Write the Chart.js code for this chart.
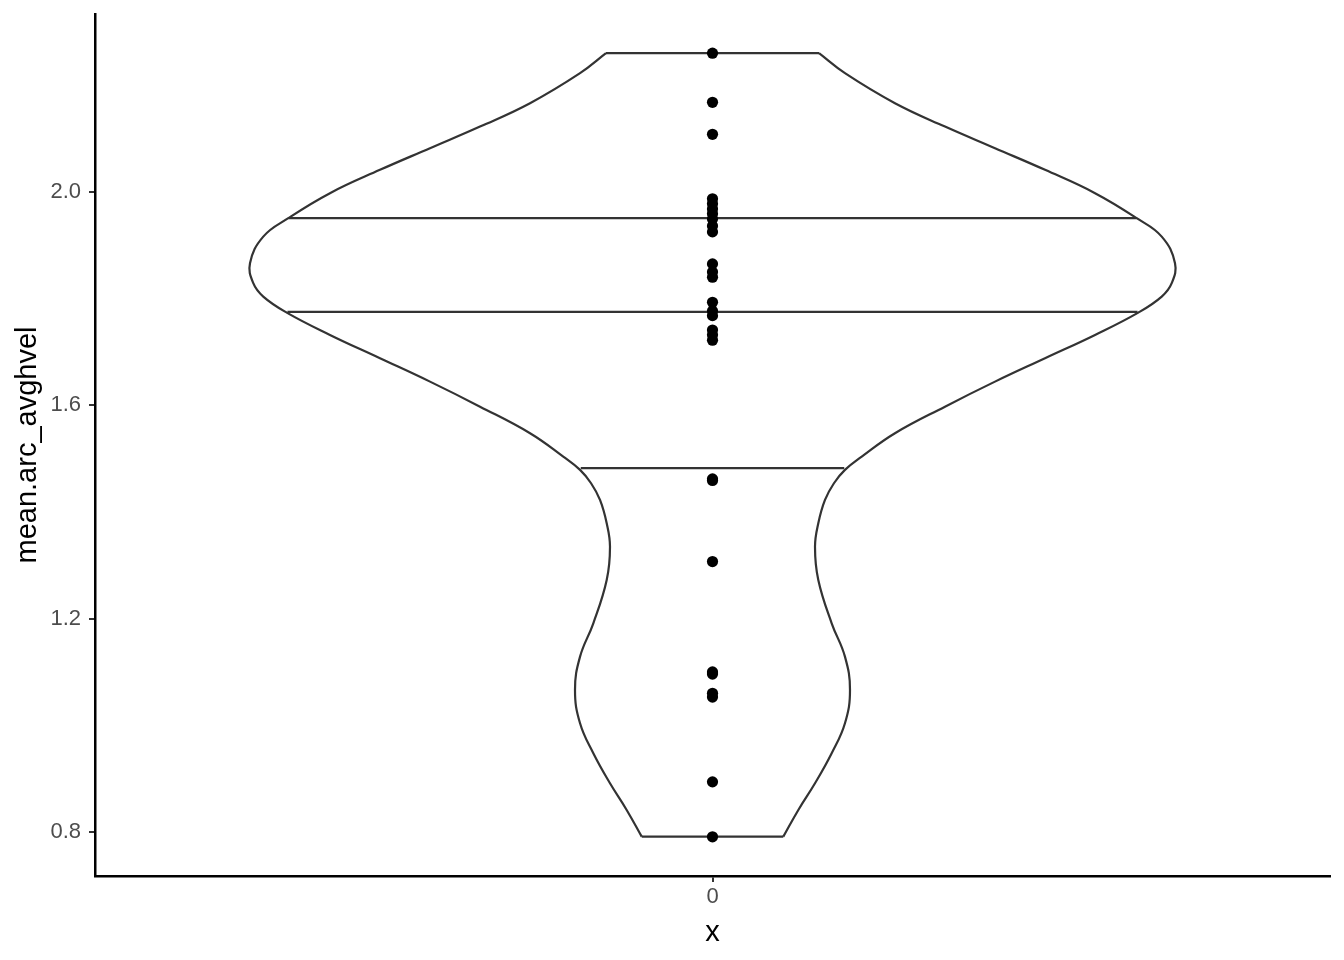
<!DOCTYPE html>
<html><head><meta charset="utf-8">
<script src="https://cdn.jsdelivr.net/npm/chart.js@4/dist/chart.umd.min.js"></script>
<style>html,body{margin:0;padding:0;background:#fff}#wrap{width:1344px;height:960px}</style>
</head><body><div id="wrap"><canvas id="c" width="1344" height="960"></canvas></div>
<script>
// ---- data ----
const categoryLabel = "0";
const xTitle = "x";
const yTitle = "mean.arc_avghvel";
const pointValues = [2.260, 2.168, 2.108,
  1.987, 1.978, 1.968, 1.959, 1.949, 1.936, 1.925,
  1.865, 1.850, 1.840,
  1.793, 1.777, 1.768, 1.741, 1.732, 1.722,
  1.462, 1.459, 1.307, 1.100, 1.096, 1.060, 1.053, 0.894, 0.791];
const violinY = [2.2601, 2.2226, 2.1663, 2.1224, 2.0819, 2.0413, 1.9976, 1.9507, 1.9162, 1.8663,
  1.8288, 1.8037, 1.7737, 1.7319, 1.6882, 1.6443, 1.5974, 1.5476, 1.5037, 1.4788,
  1.4538, 1.4225, 1.3788, 1.3349, 1.2725, 1.1913, 1.1287, 1.0663, 1.0038, 0.9476, 0.8913, 0.8413, 0.7913];
const violinHalfWidth = [0.1035, 0.1287, 0.1773, 0.2259, 0.2745, 0.3231, 0.3717, 0.4122, 0.4365, 0.4494,
  0.4462, 0.4365, 0.4137, 0.3717, 0.3231, 0.2745, 0.2259, 0.1773, 0.1450, 0.1287,
  0.1180, 0.1093, 0.1028, 0.0996, 0.1028, 0.1158, 0.1287, 0.1336, 0.1287, 0.1158, 0.0996, 0.0834, 0.0688];
const quantileY = [1.482, 1.775, 1.951];
const quantileHalfWidth = [0.128, 0.413, 0.412];
const yTickValues = [0.8, 1.2, 1.6, 2.0];
const yTickLabels = ["0.8", "1.2", "1.6", "2.0"];

// ---- build datasets ----
const lineStyle = {showLine: true, pointRadius: 0, borderColor: '#333333', borderWidth: 2.2, fill: false, backgroundColor: 'transparent'};
const n = violinY.length;
const datasets = [
  {label: 'points', data: pointValues.map(v => ({x: 0, y: v})), pointRadius: 5.6, pointBackgroundColor: '#000', pointBorderColor: '#000', pointBorderWidth: 0, showLine: false},
  Object.assign({label: 'right', data: violinY.map((y, i) => ({x: violinHalfWidth[i], y})), tension: 0.42}, lineStyle),
  Object.assign({label: 'left', data: violinY.map((y, i) => ({x: -violinHalfWidth[i], y})), tension: 0.42}, lineStyle),
  Object.assign({label: 'top', data: [{x: -violinHalfWidth[0], y: violinY[0]}, {x: violinHalfWidth[0], y: violinY[0]}], tension: 0}, lineStyle),
  Object.assign({label: 'bottom', data: [{x: -violinHalfWidth[n-1], y: violinY[n-1]}, {x: violinHalfWidth[n-1], y: violinY[n-1]}], tension: 0}, lineStyle)
];
quantileY.forEach((q, i) => {
  datasets.push(Object.assign({label: 'q' + i, data: [{x: -quantileHalfWidth[i], y: q}, {x: quantileHalfWidth[i], y: q}], tension: 0}, lineStyle));
});

const FONT = '"Liberation Sans", Arial, Helvetica, sans-serif';
new Chart(document.getElementById('c'), {
  type: 'scatter',
  data: {datasets},
  options: {
    responsive: false, animation: false, devicePixelRatio: 1,
    layout: {padding: {top: 14, right: 14, left: 0, bottom: 0}},
    plugins: {legend: {display: false}, tooltip: {enabled: false}},
    scales: {
      x: {
        type: 'linear', min: -0.6, max: 0.6,
        afterBuildTicks: a => { a.ticks = [{value: 0}]; },
        afterFit: a => { a.height = 84; a.paddingLeft = 0; a.paddingRight = 0; },
        ticks: {callback: () => categoryLabel, color: '#4D4D4D', font: {family: FONT, size: 22}, padding: 2, maxRotation: 0},
        grid: {drawOnChartArea: false, drawTicks: true, tickLength: 6, color: '#333333', lineWidth: 2},
        border: {display: true, color: '#000', width: 2.5},
        title: {display: true, text: xTitle, color: '#000', font: {family: FONT, size: 29}, padding: {top: 0, bottom: 10}}
      },
      y: {
        type: 'linear', min: 0.7175, max: 2.3335,
        afterBuildTicks: a => { a.ticks = yTickValues.map(v => ({value: v})); },
        afterFit: a => { a.width = 95; a.paddingTop = 0; a.paddingBottom = 0; },
        ticks: {callback: (v, i) => yTickLabels[i], color: '#4D4D4D', font: {family: FONT, size: 22}, padding: 8},
        grid: {drawOnChartArea: false, drawTicks: true, tickLength: 6, color: '#333333', lineWidth: 2},
        border: {display: true, color: '#000', width: 2.5},
        title: {display: true, text: yTitle, color: '#000', font: {family: FONT, size: 29}, padding: {top: 11, bottom: 0}}
      }
    }
  }
});
</script></body></html>
